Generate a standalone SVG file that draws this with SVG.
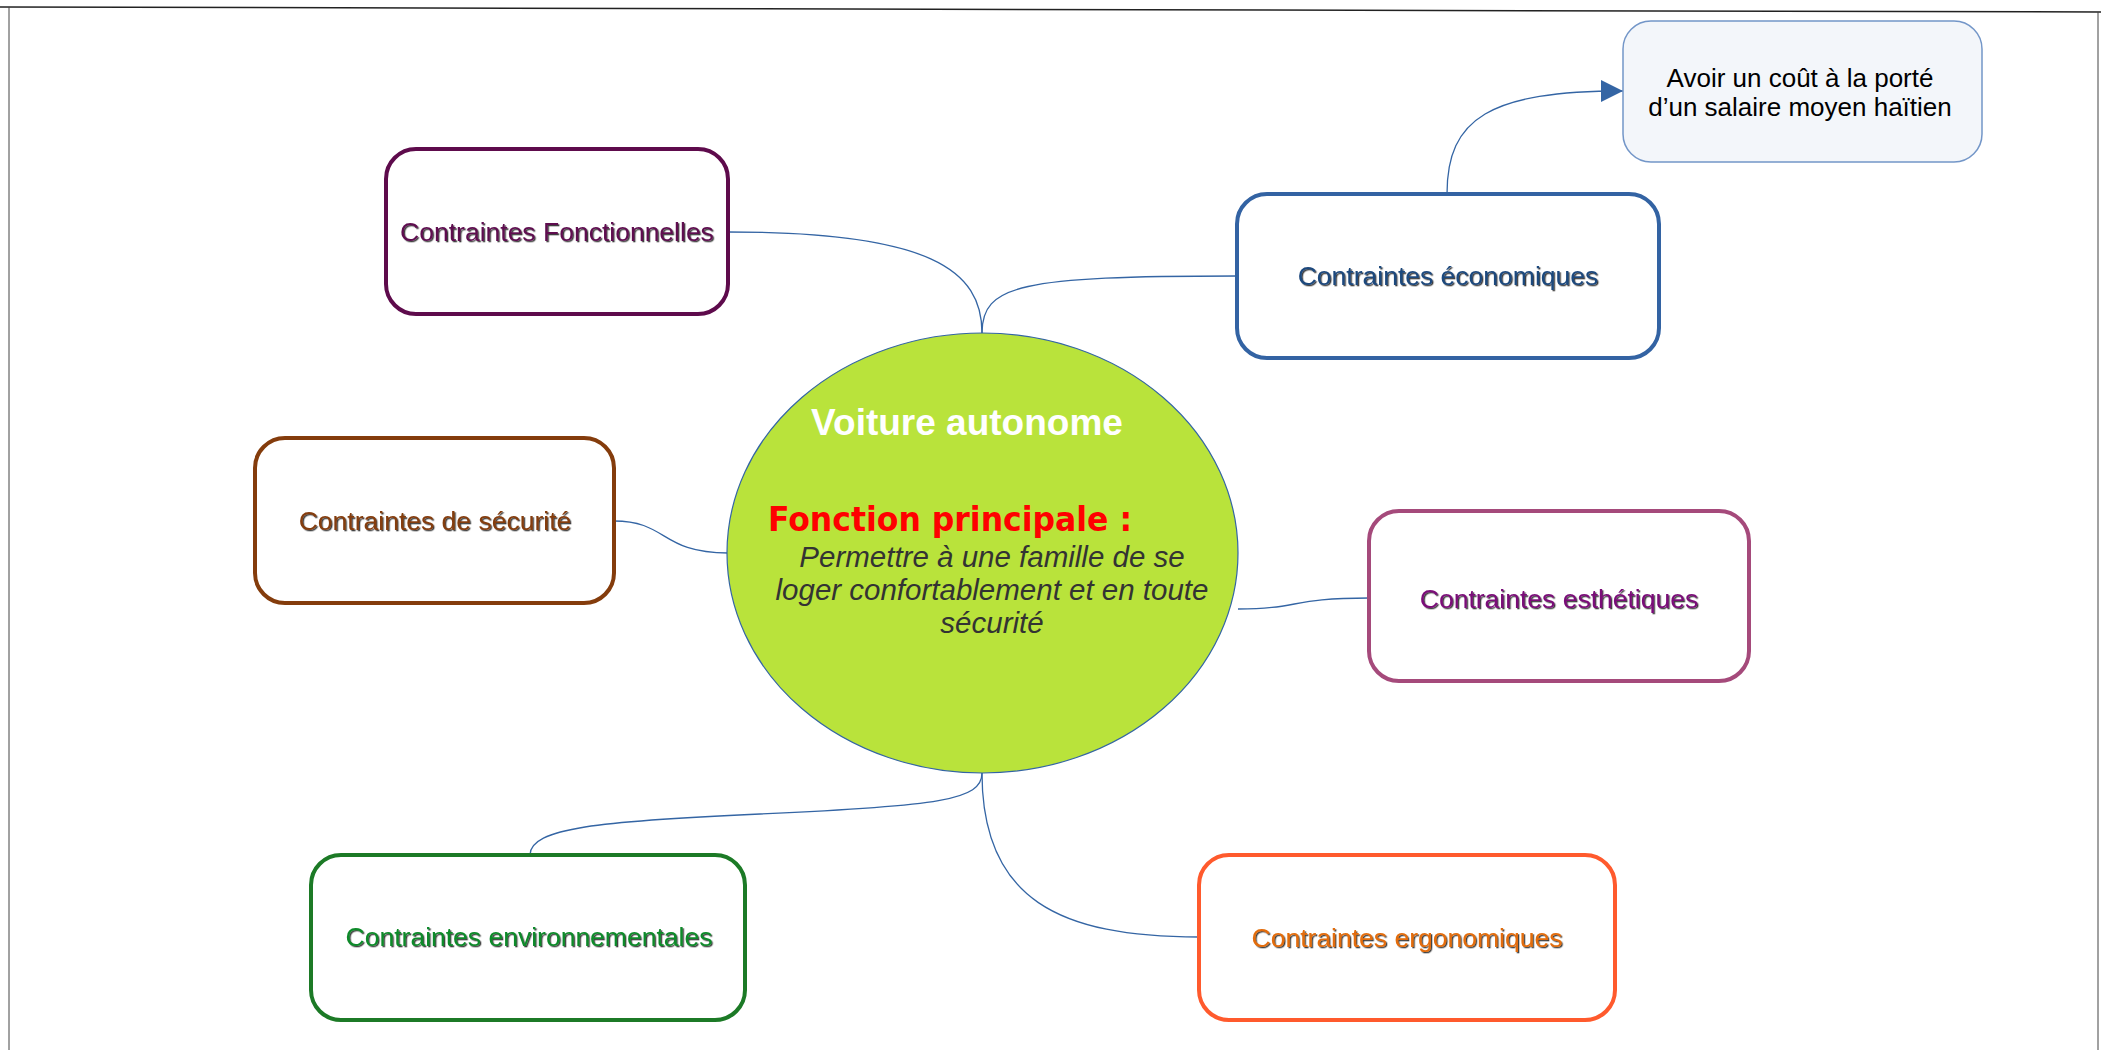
<svg xmlns="http://www.w3.org/2000/svg" width="2101" height="1050" viewBox="0 0 2101 1050">
<style>
.box{fill:#fff;stroke-width:4}
.lbl{font-family:"Liberation Sans",Arial,sans-serif;font-size:26.5px;text-anchor:middle;filter:url(#ts)}
.conn{fill:none;stroke:#3465a4;stroke-width:1.3}
</style>
<defs>
<filter id="ts" x="-5%" y="-30%" width="110%" height="160%">
<feDropShadow dx="1.3" dy="1.3" stdDeviation="0.4" flood-color="#000" flood-opacity="0.75"/>
</filter>
<marker id="arr" viewBox="0 0 10 10" refX="10" refY="5" markerWidth="22" markerHeight="22" markerUnits="userSpaceOnUse" orient="auto">
<path d="M0,0 L10,5 L0,10 Z" fill="#3465a4"/>
</marker>
</defs>
<rect width="2101" height="1050" fill="#fff"/>
<g id="frame" fill="none">
<line x1="0" y1="7" x2="2101" y2="12" stroke="#222" stroke-width="1.5"/>
<line x1="9" y1="7" x2="9" y2="1050" stroke="#444" stroke-width="1"/>
<line x1="2098" y1="12" x2="2098" y2="1050" stroke="#444" stroke-width="1"/>
</g>
<g id="connectors">
<path class="conn" d="M728,232 C930,232 982,270 982,333"/>
<path class="conn" d="M982,333 C982,285 1020,276 1237,276"/>
<path class="conn" d="M1447,194 C1447,118 1490,91 1623,91" marker-end="url(#arr)"/>
<path class="conn" d="M614,521 C668,521 660,553 728,553"/>
<path class="conn" d="M1238,609 C1300,609 1290,598 1369,598"/>
<path class="conn" d="M982,773 C982,800 940,806 760,814 C600,821 530,828 530,855"/>
<path class="conn" d="M982,773 C982,900 1060,937 1199,937"/>
</g>
<g id="center">
<ellipse cx="982.5" cy="553" rx="255.5" ry="220" fill="#b9e33b" stroke="#3465a4" stroke-width="1.2"/>
<text x="967" y="435" font-family="Liberation Sans,Arial,sans-serif" font-size="37" font-weight="bold" fill="#fff" text-anchor="middle">Voiture autonome</text>
<text x="768" y="531" font-family="'DejaVu Sans',sans-serif" font-size="33" font-weight="bold" fill="#ff0000" textLength="364" lengthAdjust="spacingAndGlyphs">Fonction principale :</text>
<g font-family="Liberation Sans,Arial,sans-serif" font-size="29.5" font-style="italic" fill="#333" text-anchor="middle">
<text x="992" y="567">Permettre à une famille de se</text>
<text x="992" y="600">loger confortablement et en toute</text>
<text x="992" y="633">sécurité</text>
</g>
</g>
<g id="fonctionnelles">
<rect class="box" x="386" y="149" width="342" height="165" rx="30" stroke="#5e0b4c"/>
<text class="lbl" x="557" y="241" fill="#5e1050">Contraintes Fonctionnelles</text>
</g>
<g id="economiques">
<rect class="box" x="1237" y="194" width="422" height="164" rx="30" stroke="#3363a3"/>
<text class="lbl" x="1448" y="285" fill="#1f497d">Contraintes économiques</text>
</g>
<g id="cout">
<rect x="1623" y="21" width="359" height="141" rx="28" fill="#f3f6fa" stroke="#7396c8" stroke-width="1.5"/>
<g font-family="Liberation Sans,Arial,sans-serif" font-size="26" fill="#000" text-anchor="middle">
<text x="1800" y="87">Avoir un coût à la porté</text>
<text x="1800" y="116">d’un salaire moyen haïtien</text>
</g>
</g>
<g id="securite">
<rect class="box" x="255" y="438" width="359" height="165" rx="30" stroke="#843c0c"/>
<text class="lbl" x="435" y="530" fill="#843c0c">Contraintes de sécurité</text>
</g>
<g id="esthetiques">
<rect class="box" x="1369" y="511" width="380" height="170" rx="30" stroke="#a54a7b"/>
<text class="lbl" x="1559" y="608" fill="#7a0a78">Contraintes esthétiques</text>
</g>
<g id="environnementales">
<rect class="box" x="311" y="855" width="434" height="165" rx="30" stroke="#1c7a26"/>
<text class="lbl" x="529" y="946" fill="#0f8a2a">Contraintes environnementales</text>
</g>
<g id="ergonomiques">
<rect class="box" x="1199" y="855" width="416" height="165" rx="30" stroke="#ff5a2d"/>
<text class="lbl" x="1407" y="947" fill="#e36c09">Contraintes ergonomiques</text>
</g>
</svg>
